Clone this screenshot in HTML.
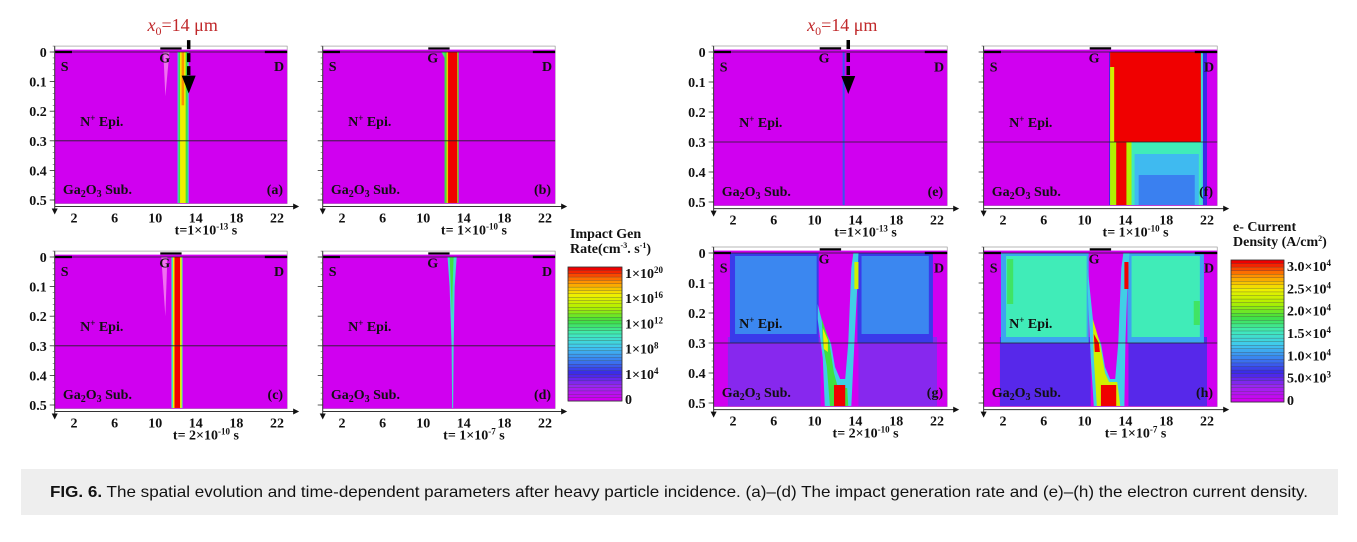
<!DOCTYPE html>
<html><head><meta charset="utf-8"><style>
html,body{margin:0;padding:0;background:#fff;}
svg{display:block;}
.t{font-family:"Liberation Serif",serif;font-weight:bold;font-size:14px;fill:#111;}
</style></head><body>
<svg id="fig" width="1357" height="542" viewBox="0 0 1357 542" xmlns="http://www.w3.org/2000/svg">
<rect x="0" y="0" width="1357" height="542" fill="#fff"/>
<g id="panels"></g>
<g id="cbars"></g>
<rect x="21" y="469" width="1317" height="46" fill="#eeeeee"/>
<text x="50" y="497" font-family="Liberation Sans, sans-serif" font-size="16" fill="#111" textLength="1258" lengthAdjust="spacingAndGlyphs"><tspan font-weight="bold">FIG. 6.</tspan>  The spatial evolution and time-dependent parameters after heavy particle incidence. (a)–(d) The impact generation rate and (e)–(h) the electron current density.</text>
</svg>
<script>
// ---- data: shapes per panel in data units (x in µm, y depth in µm), lvl = colormap level 0..1
const xTicks=[2,6,10,14,18,22];
const yTicks=[0,0.1,0.2,0.3,0.4,0.5];
const yTickLabels=["0","0.1","0.2","0.3","0.4","0.5"];
const panelLabels=["(a)","(b)","(c)","(d)","(e)","(f)","(g)","(h)"];
const timeLabels=[["t=1×10","-13"," s"],["t= 1×10","-10"," s"],["t= 2×10","-10"," s"],["t= 1×10","-7"," s"],["t=1×10","-13"," s"],["t= 1×10","-10"," s"],["t= 2×10","-10"," s"],["t= 1×10","-7"," s"]];
const shapesA=[
 {c:"#f070f0",p:[[10.8,0],[11.4,0],[11.0,0.15]]},
 {lvl:0.4,r:[12.2,13.3,0,0.51]},{lvl:0.6,r:[12.3,13.2,0,0.51]},{lvl:0.8,r:[12.45,13.0,0,0.51]},{lvl:0.9,r:[12.6,12.85,0,0.18]}];
const shapesB=[
 {lvl:0.55,p:[[11.8,0],[12.6,0],[12.5,0.1],[12.1,0.02]]},
 {lvl:0.6,r:[12.1,13.5,0,0.51]},{lvl:0.85,r:[12.3,13.4,0,0.51]},{lvl:1,r:[12.45,13.35,0,0.51]}];
const shapesC=[
 {c:"#f070f0",p:[[10.6,0],[11.2,0],[11.0,0.2]]},
 {lvl:0.5,r:[11.6,12.7,0,0.51]},{lvl:0.8,r:[11.75,12.6,0,0.51]},{lvl:1,r:[11.9,12.45,0,0.51]}];
const shapesD=[
 {lvl:0.45,p:[[12.4,0],[13.3,0],[13.1,0.1],[13.0,0.3],[12.95,0.51],[12.85,0.51],[12.8,0.3],[12.6,0.1]]},
 {lvl:0.6,p:[[12.6,0],[13.0,0],[12.9,0.1],[12.85,0.2]]}];
const shapesE=[{lvl:0.25,r:[12.75,12.95,0,0.51]}];
const shapesF=[
 {lvl:0.2,r:[12.4,22.0,0,0.51]},{lvl:0.45,r:[12.5,21.6,0,0.51]},{lvl:0.7,r:[12.5,14.6,0.3,0.51]},
 {lvl:1,r:[13.1,14.1,0.3,0.51]},{lvl:0.5,r:[14.6,21.4,0.3,0.51]},{lvl:0.38,r:[14.9,21.2,0.34,0.51]},{lvl:0.3,r:[15.3,20.8,0.41,0.51]},
 {lvl:1,r:[12.5,21.4,0,0.3]},{lvl:0.75,r:[12.5,12.9,0.05,0.3]}];
const shapesG=[
 {lvl:0.12,r:[1.5,10.6,0.28,0.51]},{lvl:0.12,r:[14.3,22,0.28,0.51]},
 {lvl:0.22,r:[1.7,10.4,0,0.3]},{lvl:0.31,r:[2.2,10.2,0.01,0.27]},
 {lvl:0.22,r:[14.2,21.6,0,0.3]},{lvl:0.31,r:[14.6,21.2,0.01,0.27]},
 {lvl:0.42,p:[[10.3,0.17],[10.9,0.25],[11.6,0.3],[12.0,0.38],[12.5,0.42],[13.0,0.42],[13.3,0.3],[13.6,0.05],[13.8,0],[14.3,0],[14.2,0.1],[13.9,0.3],[13.6,0.51],[11.0,0.51],[10.8,0.35],[10.3,0.22]]},
 {lvl:0.6,p:[[10.7,0.22],[11.4,0.29],[11.9,0.4],[12.3,0.45],[13.2,0.45],[13.3,0.51],[11.5,0.51],[11.2,0.38],[10.8,0.3]]},
 {lvl:0.8,p:[[10.8,0.25],[11.3,0.29],[11.3,0.33],[10.9,0.32]]},
 {lvl:1,r:[11.9,13.0,0.44,0.51]},{lvl:0.75,r:[13.9,14.3,0.03,0.12]}];
const shapesH=[
 {lvl:0.17,r:[1.7,10.6,0.28,0.51]},{lvl:0.17,r:[14.3,22,0.28,0.51]},
 {lvl:0.35,r:[1.8,10.4,0,0.3]},{lvl:0.5,r:[2.3,10.2,0.01,0.28]},{lvl:0.57,r:[2.4,3.0,0.02,0.17]},
 {lvl:0.35,r:[14.2,21.7,0,0.3]},{lvl:0.5,r:[14.6,21.3,0.01,0.28]},{lvl:0.57,r:[20.7,21.3,0.16,0.24]},
 {lvl:0.42,p:[[10.3,0.05],[10.9,0.25],[11.6,0.3],[12.0,0.38],[12.5,0.42],[13.0,0.42],[13.3,0.3],[13.6,0.05],[13.8,0],[14.4,0],[14.2,0.1],[14.0,0.3],[13.9,0.51],[10.9,0.51],[10.6,0.35],[10.3,0.12]]},
 {lvl:0.75,p:[[10.8,0.22],[11.5,0.3],[12.0,0.4],[12.4,0.43],[13.2,0.43],[13.5,0.51],[11.2,0.51],[10.9,0.35]]},
 {lvl:1,p:[[10.9,0.27],[11.4,0.3],[11.5,0.33],[11.0,0.33]]},
 {lvl:1,r:[11.6,13.1,0.44,0.51]},{lvl:1,r:[13.9,14.3,0.03,0.12]}];
const impactLabels=["1×10","1×10","1×10","1×10","1×10","0"];
const impactExps=["20","16","12","8","4",""];
const currentLabels=["3.0×10","2.5×10","2.0×10","1.5×10","1.0×10","5.0×10","0"];
const currentExps=["4","4","4","4","4","3",""];

// ---- layout
const panels=[
 {x0:53.7,y0:52,sx:10.15,sy:296,sh:shapesA,yl:true,arrow:true},
 {x0:321.7,y0:52,sx:10.15,sy:296,sh:shapesB,yl:false},
 {x0:53.7,y0:257,sx:10.15,sy:296,sh:shapesC,yl:true},
 {x0:321.7,y0:257,sx:10.15,sy:296,sh:shapesD,yl:false},
 {x0:712.6,y0:52,sx:10.2,sy:300,sh:shapesE,yl:true,arrow:true},
 {x0:982.6,y0:52,sx:10.2,sy:300,sh:shapesF,yl:false},
 {x0:712.6,y0:253,sx:10.2,sy:300,sh:shapesG,yl:true},
 {x0:982.6,y0:253,sx:10.2,sy:300,sh:shapesH,yl:false}];
const stops=[[0,[208,0,240]],[0.1,[154,40,240]],[0.2,[58,40,232]],[0.3,[58,128,240]],[0.4,[64,200,240]],[0.5,[64,236,184]],[0.6,[64,224,64]],[0.7,[176,240,0]],[0.8,[240,240,0]],[0.9,[255,144,0]],[1,[240,0,0]]];
function cmap(v){v=Math.max(0,Math.min(1,v));for(let i=1;i<stops.length;i++){if(v<=stops[i][0]){const a=stops[i-1],b=stops[i],t=(v-a[0])/(b[0]-a[0]);const c=a[1].map((q,k)=>Math.round(q+(b[1][k]-q)*t));return `rgb(${c[0]},${c[1]},${c[2]})`;}}return "rgb(240,0,0)";}
const NS="http://www.w3.org/2000/svg";
function el(tag,attrs,parent,txt){const e=document.createElementNS(NS,tag);for(const k in attrs)e.setAttribute(k,attrs[k]);if(txt!==undefined)e.textContent=txt;parent.appendChild(e);return e;}
const root=document.getElementById('panels');
panels.forEach((P,i)=>{
 const X=v=>P.x0+v*P.sx, Y=v=>P.y0+v*P.sy;
 const g=el('g',{},root);
 
 
 const L=X(0.1),R=X(23),T=Y(-0.02),B=Y(0.512);
 el('rect',{x:L,y:T,width:R-L,height:B-T,fill:'#fff',stroke:'#888','stroke-width':0.6},g);
 const bg=el('rect',{x:L,y:Y(-0.008),width:R-L,height:B-Y(-0.008),fill:cmap(0)},g);
 
 
 P.sh.forEach(s=>{
  const fill=s.c||cmap(s.lvl);
  let m;
  if(s.r){m=el('rect',{x:X(s.r[0]),y:Y(s.r[2]),width:X(s.r[1])-X(s.r[0]),height:Y(s.r[3])-Y(s.r[2]),fill:fill},g);}
  else{m=el('polygon',{points:s.p.map(q=>X(q[0])+','+Y(q[1])).join(' '),fill:fill},g);}
  
  
 });
 el('line',{x1:L,x2:R,y1:Y(0),y2:Y(0),stroke:'#222','stroke-width':0.8},g);
 el('line',{x1:L,x2:R,y1:Y(0.3),y2:Y(0.3),stroke:'#222','stroke-width':0.8},g);
 el('line',{x1:L,x2:X(1.8),y1:Y(0),y2:Y(0),stroke:'#000','stroke-width':2.2},g);
 el('line',{x1:X(20.8),x2:R,y1:Y(0),y2:Y(0),stroke:'#000','stroke-width':2.2},g);
 el('line',{x1:X(10.5),x2:X(12.6),y1:Y(-0.012),y2:Y(-0.012),stroke:'#000','stroke-width':2.2},g);
 el('text',{x:X(0.7),y:Y(0.065),class:'t','font-size':15},g,'S');
 el('text',{x:X(10.4),y:Y(0.035),class:'t','font-size':15},g,'G');
 el('text',{x:X(21.7),y:Y(0.065),class:'t','font-size':15},g,'D');
 const ep=el('text',{x:X(2.6),y:Y(0.25),class:'t'},g);ep.innerHTML='N<tspan dy="-5" font-size="9">+</tspan><tspan dy="5"> Epi.</tspan>';
 const gs=el('text',{x:X(0.9),y:Y(0.48),class:'t'},g);gs.innerHTML='Ga<tspan dy="3" font-size="10">2</tspan><tspan dy="-3">O</tspan><tspan dy="3" font-size="10">3</tspan><tspan dy="-3"> Sub.</tspan>';
 el('text',{x:X(22.6),y:Y(0.48),class:'t','text-anchor':'end','font-size':16},g,panelLabels[i]);
 el('line',{x1:L,x2:L,y1:T,y2:B+8,stroke:'#333','stroke-width':1},g);
 el('polygon',{points:`${L-3},${B+5} ${L+3},${B+5} ${L},${B+11}`,fill:'#111'},g);
 el('line',{x1:L,x2:R+8,y1:B+3,y2:B+3,stroke:'#333','stroke-width':1},g);
 el('polygon',{points:`${R+6},${B} ${R+6},${B+6} ${R+12},${B+3}`,fill:'#111'},g);
 for(let v=-0.02;v<=0.51;v+=0.02){el('line',{x1:L-2,x2:L,y1:Y(v),y2:Y(v),stroke:'#555','stroke-width':0.6},g);}
 yTicks.forEach((v,k)=>{
  el('line',{x1:L-5,x2:L,y1:Y(v),y2:Y(v),stroke:'#333','stroke-width':0.8},g);
  if(P.yl){const t=el('text',{x:L-8,y:Y(v)+5,class:'t','text-anchor':'end'},g,yTickLabels[k]);
   
   }
 });
 xTicks.forEach(v=>{
  const t=el('text',{x:X(v),y:B+19,class:'t','text-anchor':'middle'},g,String(v));
  
  
 });
 const tl=timeLabels[i];
 const tt=el('text',{x:X(15),y:B+31,class:'t','text-anchor':'middle'},g);
 tt.innerHTML=tl[0]+'<tspan dy="-5" font-size="9">'+tl[1]+'</tspan><tspan dy="5">'+tl[2]+'</tspan>';
 
 
 if(P.arrow){
  const a=el('g',{},g);
  
  
  const ax=X(13.3);
  el('line',{x1:ax,x2:ax,y1:Y(-0.04),y2:Y(0.09),stroke:'#000','stroke-width':3.5,'stroke-dasharray':'9,4'},a);
  el('polygon',{points:`${ax-7},${Y(0.08)} ${ax+7},${Y(0.08)} ${ax},${Y(0.14)}`,fill:'#000'},a);
  const lb=el('text',{x:ax-6,y:31,'text-anchor':'middle','font-family':'Liberation Serif, serif','font-size':18,fill:'#c0282a'},a);
  lb.innerHTML='<tspan font-style="italic">x</tspan><tspan dy="4" font-size="12">0</tspan><tspan dy="-4">=14 μm</tspan>';
 }
});
const cb=document.getElementById('cbars');
function colorbar(x,y,w,h,labels,exps,t1,t2,name){
 const g=el('g',{},cb);
 
 
 const n=40;
 for(let k=0;k<n;k++){el('rect',{x:x,y:y+h*k/n,width:w,height:h/n+0.3,fill:cmap(1-k/(n-1)),stroke:'#444','stroke-width':0.3},g);}
 el('rect',{x:x,y:y,width:w,height:h,fill:'none',stroke:'#333','stroke-width':0.8},g);
 el('text',{x:x+2,y:y-29,class:'t'},g,t1);
 const s=el('text',{x:x+2,y:y-14,class:'t'},g);s.innerHTML=t2;
 labels.forEach((l,k)=>{
  const ty=y+6+k*(h-8)/(labels.length-1)+5;
  const tx=el('text',{x:x+w+3,y:ty,class:'t','font-size':13},g);
  tx.innerHTML=l+(exps[k]?'<tspan dy="-5" font-size="9">'+exps[k]+'</tspan>':'');
  
  
 });
}
colorbar(568,267,54,134,impactLabels,impactExps,'Impact Gen','Rate(cm<tspan dy="-5" font-size="8">-3</tspan><tspan dy="5">. s</tspan><tspan dy="-5" font-size="8">-1</tspan><tspan dy="5">)</tspan>','impact-gen-colorbar');
colorbar(1231,260,53,142,currentLabels,currentExps,'e- Current','Density (A/cm<tspan dy="-5" font-size="8">2</tspan><tspan dy="5">)</tspan>','current-density-colorbar');
</script>
</body></html>
